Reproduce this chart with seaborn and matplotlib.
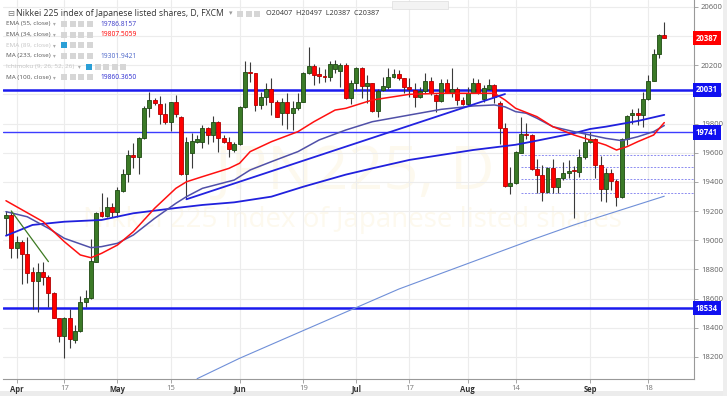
import numpy as np
import pandas as pd
import matplotlib
matplotlib.use('Agg')
import matplotlib.pyplot as plt
import matplotlib.transforms as mtransforms
from matplotlib.patches import Rectangle
import seaborn as sns

# Daily candles, JPN225 (FXCM), 30 Mar 2017 - 21 Sep 2017
opens = [19155, 19173, 18949, 18986, 18903, 18780, 18720, 18780, 18750, 18636,
         18464, 18345, 18468, 18316, 18377, 18574, 18602, 18853, 19192, 19168,
         19228, 19196, 19338, 19452, 19585, 19573, 19699, 19909, 19962, 19932,
         19864, 19809, 19950, 19848, 19454, 19596, 19676, 19676, 19768, 19722,
         19813, 19699, 19676, 19619, 19660, 19916, 20156, 20145, 19928, 19985,
         20035, 19950, 19875, 19950, 19875, 19905, 19950, 20149, 20195, 20140,
         20127, 20118, 20173, 20163, 20202, 19974, 20077, 20179, 20058, 20077,
         19889, 20031, 20053, 20118, 20140, 20111, 20049, 20031, 19980, 20026,
         20094, 19994, 19957, 20077, 20012, 20035, 19960, 19935, 20012, 20077,
         19967, 20035, 20065, 19944, 19768, 19372, 19390, 19601, 19729, 19720,
         19487, 19447, 19333, 19493, 19367, 19425, 19459, 19482, 19470, 19569,
         19676, 19692, 19516, 19349, 19463, 19408, 19294, 19692, 19857, 19871,
         19859, 19967, 20094, 20278, 20407]
highs = [19201, 19201, 19031, 19002, 19024, 18818, 18842, 18849, 18761, 18647,
         18468, 18470, 18528, 18418, 18620, 18659, 19008, 19196, 19322, 19299,
         19253, 19367, 19489, 19619, 19665, 19710, 19923, 20015, 19974, 19992,
         19939, 19950, 19996, 19855, 19710, 19738, 19722, 19791, 19775, 19852,
         19815, 19722, 19710, 19676, 19921, 20232, 20225, 20150, 20019, 20081,
         20111, 19962, 19974, 20008, 19957, 20008, 20156, 20328, 20209, 20186,
         20173, 20232, 20236, 20218, 20214, 20099, 20186, 20190, 20133, 20080,
         20035, 20122, 20179, 20173, 20166, 20115, 20111, 20077, 20053, 20149,
         20122, 20000, 20104, 20104, 20179, 20053, 19985, 20049, 20111, 20104,
         20065, 20104, 20072, 19957, 19806, 19505, 19612, 19843, 19806, 19729,
         19555, 19516, 19500, 19555, 19430, 19539, 19550, 19509, 19624, 19734,
         19745, 19700, 19578, 19493, 19487, 19418, 19699, 19859, 19898, 19905,
         20019, 20133, 20310, 20415, 20497]
lows = [19036, 18880, 18880, 18698, 18705, 18528, 18506, 18693, 18544, 18464,
        18304, 18194, 18263, 18293, 18370, 18544, 18595, 18849, 19160, 19157,
        19161, 19161, 19333, 19402, 19498, 19452, 19694, 19848, 19928, 19795,
        19795, 19749, 19848, 19448, 19281, 19493, 19667, 19633, 19660, 19676,
        19607, 19667, 19573, 19607, 19655, 19910, 20088, 19889, 19898, 19928,
        19859, 19843, 19791, 19761, 19756, 19893, 19945, 20140, 20065, 20077,
        20088, 20094, 20145, 20053, 19968, 19935, 20031, 19974, 19939, 19882,
        19843, 20025, 20035, 20111, 20099, 20012, 19985, 19912, 19974, 20008,
        19996, 19882, 19950, 20008, 19985, 19928, 19928, 19921, 20008, 20000,
        19950, 20030, 19944, 19660, 19367, 19317, 19385, 19595, 19692, 19480,
        19326, 19271, 19325, 19326, 19322, 19413, 19425, 19150, 19436, 19560,
        19667, 19425, 19271, 19264, 19345, 19235, 19290, 19653, 19797, 19791,
        19775, 19960, 20090, 20248, 20387]
closes = [19173, 18945, 18990, 18903, 18773, 18720, 18780, 18750, 18636, 18464,
          18345, 18468, 18320, 18377, 18574, 18602, 18858, 19189, 19168, 19228,
          19196, 19343, 19452, 19585, 19571, 19699, 19909, 19962, 19939, 19864,
          19809, 19946, 19866, 19454, 19676, 19683, 19692, 19768, 19722, 19813,
          19699, 19676, 19624, 19660, 19916, 20156, 20145, 19928, 19985, 20035,
          19950, 19848, 19950, 19875, 19905, 19950, 20149, 20195, 20133, 20127,
          20118, 20209, 20209, 20202, 19974, 20077, 20179, 20058, 20077, 19889,
          20026, 20058, 20122, 20140, 20111, 20049, 20035, 19980, 20026, 20094,
          20008, 19957, 20077, 20012, 20035, 19960, 19935, 20012, 20077, 20012,
          20042, 20065, 19980, 19768, 19372, 19395, 19607, 19729, 19720, 19487,
          19447, 19333, 19493, 19363, 19425, 19459, 19477, 19473, 19573, 19676,
          19692, 19516, 19349, 19459, 19408, 19294, 19692, 19852, 19871, 19857,
          19967, 20094, 20278, 20408, 20387]

# indicator lines, read at selected bars (bar number, value)
ema34_bar = [0, 7, 11, 14, 16, 18, 21, 24, 28, 32, 34, 37, 42, 44, 46, 50, 55, 58,
             62, 64, 69, 76, 82, 88, 92, 94, 96, 100, 103, 107, 110, 113, 115,
             117, 119, 122, 124]
ema34_val = [19271, 19127, 18990, 18899, 18880, 18910, 18967, 19059, 19219, 19356,
             19401, 19436, 19493, 19528, 19608, 19676, 19745, 19813, 19893, 19905,
             19962, 20001, 20008, 20008, 20008, 19962, 19905, 19848, 19779, 19722,
             19688, 19653, 19619, 19642, 19676, 19722, 19807]
ema55_bar = [0, 4, 8, 11, 16, 18, 21, 24, 28, 32, 34, 37, 43, 46, 50, 55, 59, 64,
             69, 76, 82, 88, 92, 94, 96, 98, 100, 103, 107, 110, 113, 116, 119,
             122, 124]
ema55_val = [19196, 19161, 19082, 19013, 18949, 18956, 18979, 19036, 19150, 19253,
             19299, 19356, 19413, 19482, 19539, 19608, 19688, 19756, 19813, 19859,
             19898, 19921, 19928, 19915, 19882, 19871, 19837, 19779, 19745, 19722,
             19699, 19683, 19710, 19745, 19787]
ma100_bar = [0, 5, 11, 18, 24, 32, 37, 43, 50, 56, 64, 69, 76, 82, 88, 96, 100,
             107, 110, 113, 119, 124]
ma100_val = [19031, 19105, 19127, 19139, 19185, 19221, 19242, 19260, 19299, 19367,
             19450, 19493, 19551, 19585, 19619, 19655, 19683, 19734, 19763, 19779,
             19818, 19860]
ma233_bar = [36, 44, 52, 74, 99, 107, 124]
ma233_val = [18050, 18190, 18317, 18665, 19002, 19105, 19302]

# drawn objects
trend_bar = [34, 94]
trend_val = [19281, 20003]
green_bar = [1, 8]
green_val = [19201, 18853]
levels = [20031, 19741, 18534]
fib_levels = [19585, 19500, 19418, 19322]
fib_start = 97

tick_dates = ['2017-04-03', '2017-04-17', '2017-05-01', '2017-05-15', '2017-06-01',
              '2017-06-19', '2017-07-03', '2017-07-17', '2017-08-01', '2017-08-14',
              '2017-09-01', '2017-09-18']
tick_labels = ['Apr', '17', 'May', '15', 'Jun', '19', 'Jul', '17', 'Aug', '14', 'Sep', '18']

dates = pd.bdate_range('2017-03-30', '2017-09-21')
dates = dates[dates != pd.Timestamp('2017-04-14')]  # Good Friday, no bar

df = pd.DataFrame({'date': dates, 'open': opens, 'high': highs,
                   'low': lows, 'close': closes})
df['bar'] = np.arange(len(df))
df['up'] = df['close'] >= df['open']

sns.set_style('white')
plt.rcParams['font.family'] = ['Open Sans', 'DejaVu Sans']

W, H = 727, 396
fig = plt.figure(figsize=(W / 100, H / 100), dpi=100)
ax = fig.add_axes([3 / W, 17 / H, 691 / W, 379 / H])

def fx(px):
    return px / W

def fy(py):
    return 1 - py / H

# faint watermark
ax.text(0.51, 0.545, 'JPN225, D', transform=ax.transAxes, fontsize=44,
        color='#fdf9ee', ha='center', va='center', zorder=0)
ax.text(0.505, 0.42, 'Nikkei 225 index of Japanese listed shares', transform=ax.transAxes,
        fontsize=20, color='#fdf9ee', ha='center', va='center', zorder=0)

# candles
ax.vlines(df['bar'], df['low'], df['high'], color='#3a3a3a', lw=0.8, zorder=3)
body_lo = np.minimum(df['open'], df['close'])
body_h = np.maximum((df['close'] - df['open']).abs(), 9)
fill = np.where(df['up'], '#3b7a27', '#ff0000')
edge = np.where(df['up'], '#1e4a12', '#b30000')
ax.bar(df['bar'], body_h, bottom=body_lo, width=0.74, color=fill,
       edgecolor=edge, linewidth=0.6, zorder=4)

# indicators
sns.lineplot(x=ma233_bar, y=ma233_val, ax=ax, color='#6f8fd8', lw=0.8, zorder=5)
sns.lineplot(x=ma100_bar, y=ma100_val, ax=ax, color='#2020dd', lw=1.3, zorder=5)
sns.lineplot(x=ema55_bar, y=ema55_val, ax=ax, color='#5050a8', lw=1.1, zorder=5)
sns.lineplot(x=ema34_bar, y=ema34_val, ax=ax, color='#ff1010', lw=1.1, zorder=5)
sns.lineplot(x=trend_bar, y=trend_val, ax=ax, color='#2323e0', lw=1.3, zorder=5)
sns.lineplot(x=green_bar, y=green_val, ax=ax, color='#3d7a22', lw=0.9, zorder=5)

xmax = 129.6
for v, lw, c in zip(levels, [1.8, 1.0, 1.8], ['#1a1aee', '#3c3cff', '#1a1aee']):
    ax.axhline(v, color=c, lw=lw, zorder=2)
for v in fib_levels:
    ax.hlines(v, fib_start, xmax, color='#8c8cf0', lw=0.7, linestyles=(0, (2, 1.5)), zorder=2)

ax.set_xlim(-0.56, xmax)
ax.set_ylim(18048, 20648)

# axes styling
ax.yaxis.tick_right()
yt = np.arange(18200, 20601, 200)
ax.set_yticks(yt)
# 20400 sits fully under the last-price tag
ax.set_yticklabels(['' if v == 20400 else str(v) for v in yt])
ax.tick_params(axis='y', labelsize=5.5, labelcolor='#606060', length=3, color='#999999',
               width=0.6, pad=2, direction='out', right=True)
tick_pos = [int(df.index[df['date'] == pd.Timestamp(d)][0]) for d in tick_dates]
ax.set_xticks(tick_pos)
ax.set_xticklabels(tick_labels)
ax.tick_params(axis='x', labelsize=5.5, labelcolor='#777777', length=3, color='#999999',
               width=0.6, pad=1, bottom=True)
for lab in ax.get_xticklabels():
    if lab.get_text().isalpha():
        lab.set_color('#333333')
        lab.set_fontweight('bold')
ax.grid(True, color='#ececec', lw=0.8, zorder=0)
ax.set_axisbelow(True)
for s in ['top', 'left']:
    ax.spines[s].set_visible(False)
for s in ['right', 'bottom']:
    ax.spines[s].set_color('#999999')
    ax.spines[s].set_linewidth(0.8)
ax.set_xlabel('')
ax.set_ylabel('')

# price tags on the right axis
tr = mtransforms.blended_transform_factory(ax.transAxes, ax.transData)
tags = [(closes[-1], '#ff0000')] + [(v, '#1010f0') for v in levels]
for v, c in tags:
    ax.text(1.003, v, f'{v:.0f}', transform=tr, fontsize=5.6, color='white',
            fontweight='bold', va='center', ha='left', zorder=10, clip_on=False,
            bbox=dict(boxstyle='square,pad=0.36', facecolor=c, edgecolor='none'))

# bottom and right strips
fig.patches.append(Rectangle((0, 0), 1, fy(391), transform=fig.transFigure,
                             facecolor='#ececec', edgecolor='none', zorder=-1))
fig.patches.append(Rectangle((fx(723), 0), 4 / W, 1, transform=fig.transFigure,
                             facecolor='#eeeeee', edgecolor='none', zorder=-1))

# header / legend
fig.text(fx(7), fy(13.5), '\u229f', fontsize=6, color='#777777', va='center',
         family=['DejaVu Sans'])
fig.text(fx(16), fy(13.5), 'Nikkei 225 index of Japanese listed shares, D, FXCM',
         fontsize=6.2, color='#333333', va='center')
fig.text(fx(229), fy(13.5), '\u25be', fontsize=5, color='#999999', va='center',
         family=['DejaVu Sans'])

def icons(x0, y, n, first_blue=False):
    for k in range(n):
        col = '#2a9fd6' if (first_blue and k == 0) else '#d6d6d6'
        fig.patches.append(Rectangle((fx(x0 + k * 8.6 - 3), fy(y + 3)), 6 / W, 6 / H,
                                     transform=fig.transFigure, facecolor=col,
                                     edgecolor='none', zorder=5))

icons(240, 13.5, 3)
fig.text(fx(266), fy(13.5), 'O20407  H20497  L20387  C20387', fontsize=5.2,
         color='#333333', va='center')
fig.patches.append(Rectangle((fx(392), fy(9)), 56 / W, 8 / H, transform=fig.transFigure,
                             facecolor='#f3f3f3', edgecolor='#dddddd', lw=0.5, zorder=5))
fig.text(fx(420), fy(5), 'Exit Full Screen (ESC)', fontsize=3.6, color='#888888',
         va='center', ha='center')

legend_rows = ['EMA (55, close)', 'EMA (34, close)', 'EMA (89, close)', 'MA (233, close)',
               'Ichimoku (9, 26, 52, 26)', 'MA (100, close)']
legend_vals = ['19786.8157', '19807.5059', '', '19301.9421', '', '19860.3650']
legend_cols = ['#3c3cc8', '#ff0000', '', '#4a64c8', '', '#2a2ad0']
legend_hidden = [False, False, True, False, True, False]
row_y = [24, 34.7, 45.3, 56, 66.7, 77.3]
for name, val, col, hid, y in zip(legend_rows, legend_vals, legend_cols, legend_hidden, row_y):
    tc = '#c4c4c4' if hid else '#555555'
    fig.text(fx(6), fy(y), name, fontsize=4.6, color=tc, va='center')
    x_ic = 86 if name.startswith('Ichimoku') else 61
    n_ic = 5 if name.startswith('Ichimoku') else 4
    fig.text(fx(x_ic - 8), fy(y), '\u25be', fontsize=4, color='#aaaaaa', va='center',
             family=['DejaVu Sans'])
    icons(x_ic + 3, y, n_ic, first_blue=hid)
    if val:
        fig.text(fx(100), fy(y), val, fontsize=4.8, color=col, va='center')

fig.savefig('out.png', dpi=100)
